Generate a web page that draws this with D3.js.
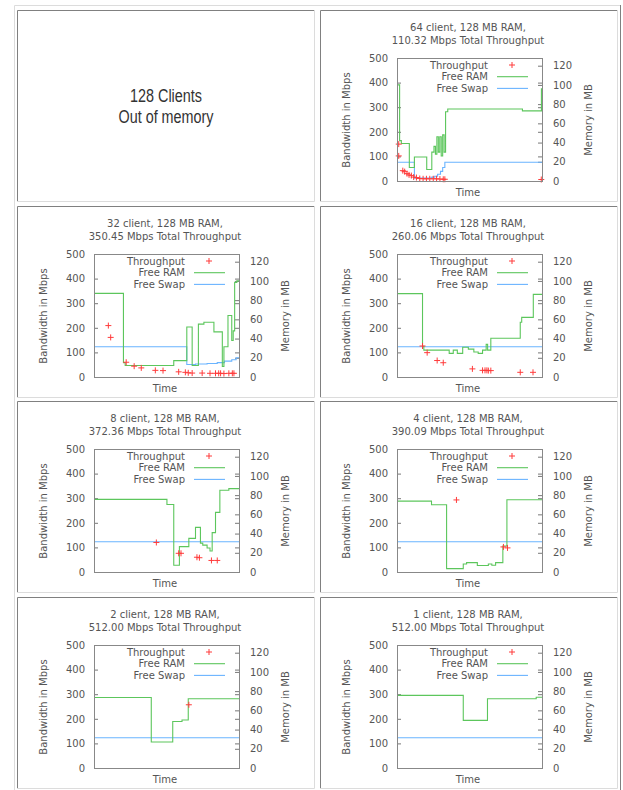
<!DOCTYPE html>
<html>
<head>
<meta charset="utf-8">
<script src="https://cdn.jsdelivr.net/npm/d3@7"></script>
<style>
  body { margin: 0; background: #fff; }
  svg { display: block; }
  text { font-family: "DejaVu Sans", sans-serif; }
</style>
</head>
<body>
<div id="chart"></div>
<script>
// ---- data: [time (0-100), value] ; RAM/swap in MB, throughput in Mbps ----
const ram64 = [[0,100],[1.8,42],[3,39],[8.5,14],[12,25],[20,25],[20.5,12],[23,12],[24,30],[25.5,36],[26.5,28],[27.5,46],[28.5,30],[29.5,46],[30.5,26],[31.5,48],[32.5,30],[33.5,72],[35,75],[86,75],[86.5,73],[99,73],[99.6,96],[100,96]];
const swap64 = [[0,19.5],[11.5,19.5],[12,3],[22,3],[24,4],[26,5],[28,7],[30,10],[31.5,14],[33,19.5],[100,19.5]];
const tp64 = [[1.2,150],[1.2,102],[4,42],[5.3,38],[6.9,30],[8.3,25],[9.9,22],[11.5,16],[13.4,14],[15.7,10],[18,9],[20.3,9],[22.6,9],[25,9],[27.3,9],[29.6,8],[31.9,7],[33,7],[99.5,6]];

const ram32 = [[0,87],[20.3,15],[21.5,12],[55,17],[64,52],[67.7,12],[72,55],[75.8,57],[82.7,47],[88.5,11],[89.6,31.5],[92.4,64],[95,38],[96,48],[97,98.5],[98.5,100],[100,100]];
const swap32 = [[0,31.5],[64,13],[70,13.5],[78,14],[85,15],[90,16.5],[95,18],[98,20],[100,20]];
const tp32 = [[9.9,209],[11.5,161],[22.2,60],[27.7,44],[32.6,37],[42.3,27],[47.6,26],[58.4,21],[63,19],[65,17],[67.7,16],[74.6,16],[80,15],[83.8,15],[86,15],[87.3,15],[89.6,14],[93,15],[95.4,15],[96.5,15]];

const ram16 = [[0,86.8],[17.6,32],[18.5,28],[36,24.6],[38.8,28],[41.6,24.6],[45.3,31],[49.2,29],[53,26],[56,24.6],[59,28],[61.5,34],[62.5,28],[64.7,40.4],[85,57],[86,62],[94,86],[100,86]];
const swap16 = [[0,31.5],[100,31.5]];
const tp16 = [[17.6,126],[20.8,99],[27.7,67],[31.9,58],[52,33],[59,27],[60.7,27],[62,27],[63,26],[64.7,26],[85,19],[93.8,19]];

const ram8 = [[0,75.6],[50.3,70.3],[55,7],[58.9,26.4],[65.4,35],[70,46.4],[73.4,30],[75,28],[78,25],[80,21.8],[81.5,41],[83.8,62],[86.8,85],[93,86.8],[100,86.8]];
const swap8 = [[0,31.5],[100,31.5]];
const tp8 = [[43,120],[58.4,76],[60,76],[71,60],[72.7,58],[81,47],[85,47]];

const ram4 = [[0,73.8],[23.8,70],[34.2,3.5],[45.7,8.4],[48,9.8],[55.4,6.7],[63,8.4],[65.4,7],[68,9.8],[73,27],[75.8,75.2],[100,75.2]];
const swap4 = [[0,31.5],[100,31.5]];
const tp4 = [[41,293],[73.4,102],[76.2,98]];

const ram2 = [[0,73.3],[39.5,27],[54.3,48.4],[60.7,50],[65,72],[100,72]];
const swap2 = [[0,31.5],[100,31.5]];
const tp2 = [[65.4,257]];

const ram1 = [[0,75.6],[45.7,49.6],[62.4,72],[96,73.7],[100,73.7]];
const swap1 = [[0,31.5],[100,31.5]];
const tp1 = [];

const leftTicks = [0, 100, 200, 300, 400, 500];
const rightTicks = [0, 20, 40, 60, 80, 100, 120];

const charts = [
  { col: 1, row: 0, t1: "64 client, 128 MB RAM,", t2: "110.32 Mbps Total Throughput", ram: ram64, swap: swap64, tp: tp64 },
  { col: 0, row: 1, t1: "32 client, 128 MB RAM,", t2: "350.45 Mbps Total Throughput", ram: ram32, swap: swap32, tp: tp32 },
  { col: 1, row: 1, t1: "16 client, 128 MB RAM,", t2: "260.06 Mbps Total Throughput", ram: ram16, swap: swap16, tp: tp16 },
  { col: 0, row: 2, t1: "8 client, 128 MB RAM,", t2: "372.36 Mbps Total Throughput", ram: ram8, swap: swap8, tp: tp8 },
  { col: 1, row: 2, t1: "4 client, 128 MB RAM,", t2: "390.09 Mbps Total Throughput", ram: ram4, swap: swap4, tp: tp4 },
  { col: 0, row: 3, t1: "2 client, 128 MB RAM,", t2: "512.00 Mbps Total Throughput", ram: ram2, swap: swap2, tp: tp2 },
  { col: 1, row: 3, t1: "1 client, 128 MB RAM,", t2: "512.00 Mbps Total Throughput", ram: ram1, swap: swap1, tp: tp1 }
];

// ---- layout ----
const W = 623, H = 790;
const colX = [17, 320], rowY = [10, 206, 401, 597];
const cellW = 298, cellH = 192;
const green = "#5cc65c", blue = "#6ab4ff", red = "#ff3b3b", ink = "#555";

const svg = d3.select("#chart").append("svg")
    .attr("width", W)
    .attr("height", H);

// outer table border (outset)
svg.append("path").attr("d", "M14.5,790 V5.5 H620").attr("fill", "none").attr("stroke", "#dcdcdc");
svg.append("path").attr("d", "M620.5,5 V790").attr("fill", "none").attr("stroke", "#808080");

// cell borders (inset)
function cellBorder(x, y) {
    svg.append("path")
        .attr("d", `M${x + 0.5},${y + cellH} V${y + 0.5} H${x + cellW}`)
        .attr("fill", "none").attr("stroke", "#808080");
    svg.append("path")
        .attr("d", `M${x + cellW - 0.5},${y} V${y + cellH - 0.5} H${x}`)
        .attr("fill", "none").attr("stroke", "#dcdcdc");
}
rowY.forEach(y => colX.forEach(x => cellBorder(x, y)));

// first cell: plain text, narrow face
const first = svg.append("g").attr("transform", `translate(${colX[0]},${rowY[0]})`);
first.selectAll("text")
    .data([["128 Clients", 72], ["Out of memory", 95]])
    .enter().append("text")
    .attr("x", cellW / 2)
    .attr("y", (d, i) => 92 + i * 21)
    .attr("text-anchor", "middle")
    .attr("textLength", d => d[1])
    .attr("lengthAdjust", "spacingAndGlyphs")
    .style("font-family", "'Liberation Sans', Arial, sans-serif")
    .style("font-size", "18px")
    .attr("fill", "#333")
    .text(d => d[0]);

// plot area inside a cell
const px0 = 77, px1 = 222, py0 = 48, py1 = 171;
const x = d3.scaleLinear().domain([0, 100]).range([px0, px1]);
const yL = d3.scaleLinear().domain([0, 500]).range([py1, py0]);
const yR = d3.scaleLinear().domain([0, 128]).range([py1, py0]);
const memLine = d3.line().curve(d3.curveStepAfter).x(d => x(d[0])).y(d => yR(d[1]));

function plus(g, cx, cy) {
    g.append("path")
        .attr("d", `M${cx - 3},${cy}H${cx + 3}M${cx},${cy - 3}V${cy + 3}`)
        .attr("stroke", red).attr("stroke-width", 1).attr("fill", "none");
}

charts.forEach(c => {
    const g = svg.append("g").attr("transform", `translate(${colX[c.col]},${rowY[c.row]})`);

    g.append("text").attr("x", 148).attr("y", 21).attr("text-anchor", "middle")
        .attr("fill", ink).style("font-size", "10px").text(c.t1);
    g.append("text").attr("x", 148).attr("y", 34).attr("text-anchor", "middle")
        .attr("fill", ink).style("font-size", "10px").text(c.t2);

    // axes
    const la = g.append("g").attr("transform", `translate(${px0},0)`)
        .call(d3.axisLeft(yL).tickValues(leftTicks).tickSize(-4).tickPadding(9));
    const ra = g.append("g").attr("transform", `translate(${px1},0)`)
        .call(d3.axisRight(yR).tickValues(rightTicks).tickSize(-4).tickPadding(11));
    const rm = g.append("g").attr("transform", `translate(${px1},0)`)
        .call(d3.axisRight(yL).tickValues(leftTicks).tickSize(-4).tickFormat(""));
    [la, ra, rm].forEach(a => {
        a.select(".domain").remove();
        a.selectAll("line").attr("stroke", "#777");
        a.selectAll("text").attr("fill", ink).style("font-size", "10px").style("font-family", "'DejaVu Sans', sans-serif");
    });

    // series
    g.append("path").datum(c.swap).attr("d", memLine)
        .attr("fill", "none").attr("stroke", blue).attr("stroke-width", 1.1);
    g.append("path").datum(c.ram).attr("d", memLine)
        .attr("fill", "none").attr("stroke", green).attr("stroke-width", 1.1);
    c.tp.forEach(d => plus(g, x(d[0]), yL(d[1])));

    // frame
    g.append("rect").attr("x", px0 + 0.5).attr("y", py0 + 0.5)
        .attr("width", px1 - px0).attr("height", py1 - py0)
        .attr("fill", "none").attr("stroke", "#888");

    // axis titles
    g.append("text").attr("transform", "translate(30,110) rotate(-90)")
        .attr("text-anchor", "middle").attr("fill", ink).style("font-size", "10px")
        .text("Bandwidth in Mbps");
    g.append("text").attr("transform", "translate(272,110) rotate(-90)")
        .attr("text-anchor", "middle").attr("fill", ink).style("font-size", "10px")
        .text("Memory in MB");
    g.append("text").attr("x", 148).attr("y", 186).attr("text-anchor", "middle")
        .attr("fill", ink).style("font-size", "10px").text("Time");

    // legend
    const legend = g.append("g");
    ["Throughput", "Free RAM", "Free Swap"].forEach((name, i) => {
        const ly = 55 + i * 11.7;
        legend.append("text").attr("x", 168).attr("y", ly + 3.5).attr("text-anchor", "end")
            .attr("fill", ink).style("font-size", "10px").text(name);
        if (i === 0) plus(legend, 192, ly);
        else legend.append("line").attr("x1", 177).attr("x2", 208).attr("y1", ly).attr("y2", ly)
            .attr("stroke", i === 1 ? green : blue).attr("stroke-width", 1.1);
    });
});
</script>
</body>
</html>
